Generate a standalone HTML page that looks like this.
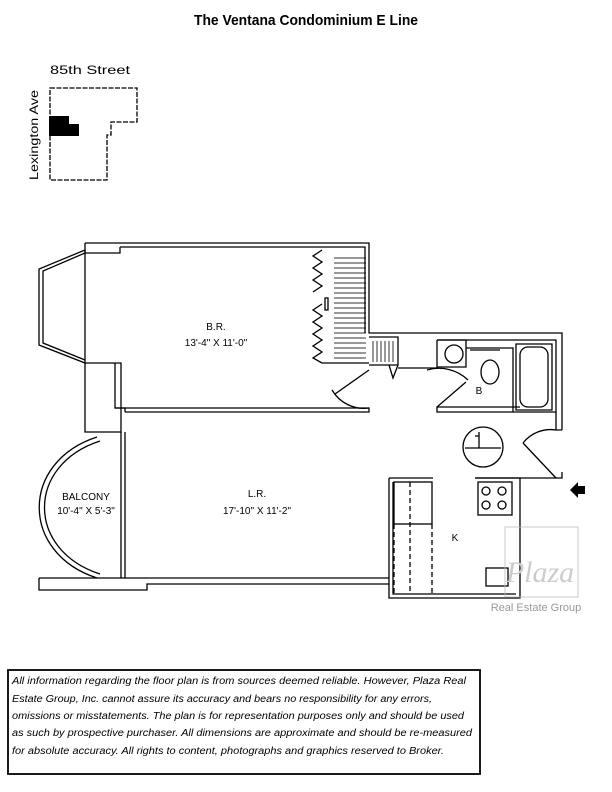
<!DOCTYPE html>
<html><head><meta charset="utf-8"><style>
html,body{margin:0;padding:0;background:#fff;}
svg{display:block;}
</style></head><body>
<svg width="612" height="792" viewBox="0 0 612 792" xmlns="http://www.w3.org/2000/svg" font-family="Liberation Sans, sans-serif">
<text x="306" y="25" text-anchor="middle" font-size="15" font-weight="bold" textLength="224" lengthAdjust="spacingAndGlyphs">The Ventana Condominium E Line</text>

<!-- key map -->
<text x="50" y="74" font-size="12" textLength="80" lengthAdjust="spacingAndGlyphs">85th Street</text>
<text transform="translate(38,180) rotate(-90)" font-size="12" textLength="90" lengthAdjust="spacingAndGlyphs">Lexington Ave</text>
<path d="M50,88 L137,88 L137,122 L111,122 L111,135 L107,135 L107,180 L50,180 Z" fill="none" stroke="#000" stroke-width="1.3" stroke-dasharray="5,1.5"/>
<path d="M49,116 L69,116 L69,124 L79,124 L79,136 L49,136 Z" fill="#000"/>

<g fill="none" stroke="#000" stroke-width="1.3">
<path d="M85,243 L369,243 L369,333 L562,333 L562,430"/>
<path d="M120,247 L365,247 L365,333"/>
<path d="M85,243 L85,253 L120,253 L120,247"/>
<path d="M85,250 L39,269 L39,345 L85,363 Z"/>
<path d="M85,253 L43,271 L43,343 L85,360"/>
<path d="M85,363 L121,363 L121,432 L85,432 Z"/>
<path d="M115,363 L115,408 L125,408"/>
<path d="M125,412 L369,412 L369,408 L125,408"/>
<path d="M115,408 L125,408 L125,412"/>
<path d="M322,250 L313,256 L322,262 L313,268 L322,274 L313,280 L322,286 L313,292 M322,304 L313,310 L322,316 L313,322 L322,328 L313,334 L322,340 L313,346 L322,352 L313,358 L322,363"/>
<path d="M322,363 L369,363"/>
<path d="M325,298 L328,298 L328,310 L325,310 Z"/>
<path d="M369,370 L335,394"/>
<path d="M332,390 A37,37 0 0 0 369,408"/>
<path d="M369,337 L398,337 L398,365 L369,365"/>
<path d="M389,365 L393,378 L398,365"/>
<path d="M398,368 L437,368"/>
<path d="M437,340 L556,340 L556,412 L437,412 L437,407 L520,407"/>
<path d="M437,340 L437,368 M437,340 L466,340 L466,367 L437,367"/>
<circle cx="454" cy="354" r="9"/>
<path d="M466,348 L513,348 L513,412"/>
<path d="M470,350 L500,350"/>
<ellipse cx="490" cy="372" rx="9" ry="12"/>
<path d="M516,344 L552,344 L552,410 L516,410 Z"/>
<rect x="520" y="347" width="28" height="60" rx="8"/>
<path d="M466,382 L437,407"/>
<path d="M427,370 A42,42 0 0 1 468,380"/>
<path d="M556,412 L556,430 L562,430"/>
<path d="M523,443 L556,478"/>
<path d="M523,443 A35,35 0 0 1 556,430"/>
<path d="M475,478 L562,478 L562,472"/>
<circle cx="483" cy="447" r="20"/>
<path d="M465,448 L501,448 M479,432 L479,448 M475,436 L479,436"/>
<path d="M389,478 L433,478 M389,478 L389,598 L520,598 L520,478 L475,478"/>
<path d="M393,482 L393,594 L516,594"/>
<rect x="394" y="482" width="38" height="42"/>
<path d="M394,524 L394,594 M432,524 L432,594 M410,482 L410,594" stroke-dasharray="5,3"/>
<rect x="478" y="482" width="34" height="33"/>
<circle cx="486" cy="491" r="4"/><circle cx="502" cy="491" r="4"/>
<circle cx="486" cy="505" r="4"/><circle cx="502" cy="505" r="4"/>
<rect x="486" y="568" width="22" height="18"/>
<path d="M121,432 L121,578 M125,432 L125,578"/>
<path d="M39,578 L389,578 M39,578 L39,590 L147,590 L147,584 L389,584"/>
<path d="M97,437 C20,462 20,553 97,578"/>
<path d="M100,441 C26,465 26,550 100,574"/>
</g>
<path d="M578,482 L570,490 L578,498 L578,494 L585,494 L585,486 L578,486 Z" fill="#000"/>
<g stroke="#000" stroke-width="1" opacity="0.8">
<path d="M334,258 H366 M334,263 H366 M334,268 H366 M334,273 H366 M334,278 H366 M334,283 H366 M334,288 H366 M334,293 H366 M334,298 H366 M334,303 H366 M334,308 H366 M334,313 H366 M334,318 H366 M334,323 H366 M334,328 H366 M334,333 H366 M334,338 H366 M334,343 H366 M334,348 H366 M334,353 H366 M334,358 H366"/>
<path d="M373,341 V362 M377,341 V362 M381,341 V362 M385,341 V362 M389,341 V362 M393,341 V362"/>
</g>
<g font-size="10" text-anchor="middle">
<text x="216" y="330">B.R.</text>
<text x="216" y="346">13'-4" X 11'-0"</text>
<text x="86" y="500">BALCONY</text>
<text x="86" y="514">10'-4" X 5'-3"</text>
<text x="257" y="497">L.R.</text>
<text x="257" y="514">17'-10" X 11'-2"</text>
<text x="479" y="394">B</text>
<text x="455" y="541">K</text>
</g>
<rect x="505" y="527" width="73" height="70" fill="none" stroke="#bbb" stroke-width="0.8"/>
<text x="540" y="582" font-family="Liberation Serif, serif" font-style="italic" font-size="30" fill="#ccc" text-anchor="middle">Plaza</text>
<text x="536" y="611" font-size="11" fill="#999" text-anchor="middle">Real Estate Group</text>
<rect x="8" y="670" width="472" height="104" fill="none" stroke="#000" stroke-width="1.8"/>
<g font-size="10" font-style="italic">
<text x="12" y="684" textLength="454" lengthAdjust="spacingAndGlyphs">All information regarding the floor plan is from sources deemed reliable. However, Plaza Real</text>
<text x="12" y="702" textLength="420" lengthAdjust="spacingAndGlyphs">Estate Group, Inc. cannot assure its accuracy and bears no responsibility for any errors,</text>
<text x="12" y="719" textLength="452" lengthAdjust="spacingAndGlyphs">omissions or misstatements. The plan is for representation purposes only and should be used</text>
<text x="12" y="736" textLength="460" lengthAdjust="spacingAndGlyphs">as such by prospective purchaser. All dimensions are   approximate and should be re-measured</text>
<text x="12" y="754" textLength="432" lengthAdjust="spacingAndGlyphs">for absolute accuracy. All rights to content, photographs and graphics reserved to Broker.</text>
</g>
</svg>
</body></html>
